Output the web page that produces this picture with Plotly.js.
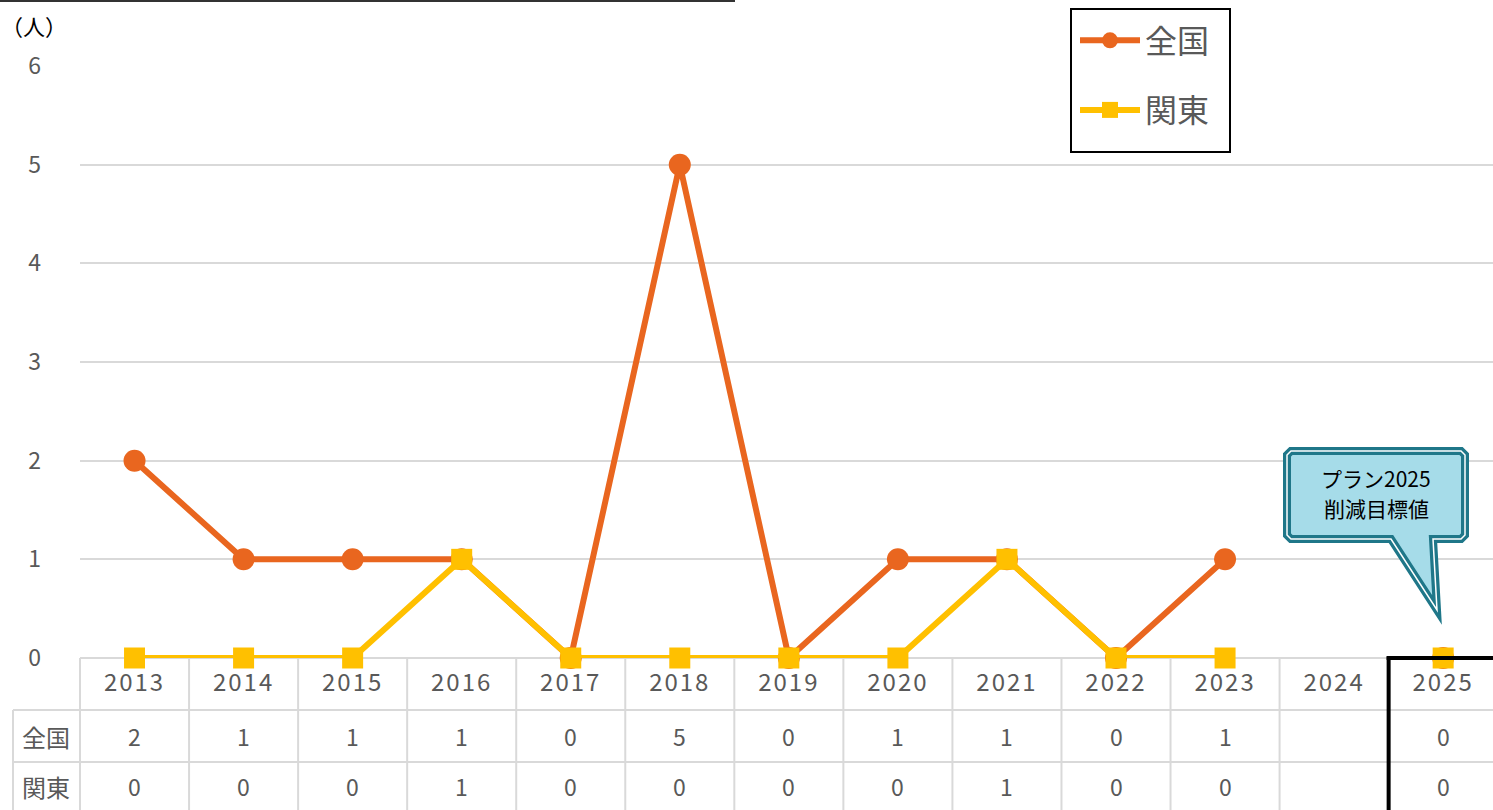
<!DOCTYPE html>
<html>
<head>
<meta charset="utf-8">
<script src="https://cdn.plot.ly/plotly-3.0.1.min.js"></script>
<style>
  html, body { margin: 0; padding: 0; overflow: hidden; background: #fff; }
  #chart { width: 1493px; height: 810px; }
  .xtick text { letter-spacing: 2px; }
</style>
</head>
<body>
<div id="chart"></div>
<script>
// ---- data ----
const years = ['2013','2014','2015','2016','2017','2018','2019','2020','2021','2022','2023','2024','2025'];
const zenkoku = [2, 1, 1, 1, 0, 5, 0, 1, 1, 0, 1, null, 0];
const kanto   = [0, 0, 0, 1, 0, 0, 0, 0, 1, 0, 0, null, 0];
const seriesNames = ['全国', '関東'];
const yUnitLabel = '（人）';
const calloutLines = ['プラン2025', '削減目標値'];

// ---- geometry ----
const W = 1493, H = 810;
const L = 80, R = 0, T = 66, B = 152;
const PW = W - L - R, PH = H - T - B;
const XMIN = -0.5, XMAX = 12.457;
const px = x => (x - L) / PW;          // pixel -> paper x
const py = y => (H - B - y) / PH;      // pixel -> paper y
const catPx = i => L + (i - XMIN) / (XMAX - XMIN) * PW;

const ORANGE = '#E9661F';
const YELLOW = '#FFC000';
const GRID = '#D9D9D9';
const TXT = '#595959';
const FONT = '"Noto Sans CJK JP", "Noto Sans", sans-serif';

const traces = [
  {
    x: years, y: zenkoku, name: seriesNames[0], type: 'scatter', mode: 'lines+markers',
    line: {color: ORANGE, width: 6}, marker: {color: ORANGE, size: 22, symbol: 'circle'},
    connectgaps: false, cliponaxis: false, legendgroup: 'a'
  },
  {
    x: years, y: kanto, name: seriesNames[1], type: 'scatter', mode: 'lines+markers',
    line: {color: YELLOW, width: 6}, marker: {color: YELLOW, size: 21, symbol: 'square'},
    connectgaps: false, cliponaxis: false, legendgroup: 'b'
  }
];

const shapes = [];
const annotations = [];
const hline = (x0, x1, y, color, w) => shapes.push({type:'line', xref:'paper', yref:'paper',
  x0: px(x0), x1: px(x1), y0: py(y), y1: py(y), line:{color, width:w}});
const vline = (x, y0, y1, color, w) => shapes.push({type:'line', xref:'paper', yref:'paper',
  x0: px(x), x1: px(x), y0: py(y0), y1: py(y1), line:{color, width:w}});

// data table grid
const rowTop = 658, row1 = 710, row2 = 762, rowBot = 812;
for (let k = 0; k <= years.length - 1; k++) {
  vline(catPx(k - 0.5), rowTop, rowBot, GRID, 2);
}
vline(13, row1, rowBot, GRID, 2);
hline(13, W, row1, GRID, 2);
hline(13, W, row2, GRID, 2);

// table values
const rowY = [736, 786];
[zenkoku, kanto].forEach((arr, r) => {
  annotations.push({xref:'paper', yref:'paper', x: px(46), y: py(rowY[r]), text: seriesNames[r],
    showarrow:false, xanchor:'center', yanchor:'middle', font:{size:24, color:TXT, family:FONT}});
  arr.forEach((v, i) => {
    if (v === null) return;
    annotations.push({xref:'x', yref:'paper', x: i, y: py(rowY[r]), text: String(v),
      showarrow:false, xanchor:'center', yanchor:'middle', font:{size:23, color:TXT, family:FONT}});
  });
});

// black box around 2025 column
vline(catPx(11.5), rowTop - 1.5, rowBot, '#000', 4);
hline(catPx(11.5) - 2, W + 2, rowTop, '#000', 4);

// thin dark line at top
hline(0, 735, 1, '#333', 2);

// legend frame
shapes.push({type:'rect', xref:'paper', yref:'paper', x0: px(1071), x1: px(1230), y0: py(9), y1: py(152),
  line:{color:'#000', width:2}, fillcolor:'#fff', layer:'above'});

// unit label
annotations.push({xref:'paper', yref:'paper', x: px(34), y: py(25), text: yUnitLabel,
  showarrow:false, xanchor:'center', yanchor:'middle', font:{size:22, color:'#000', family:FONT}});

// callout
const cx0 = 1287, cx1 = 1465, cy0 = 451, cy1 = 539, rr = 4;
const tl = 1391, tr = 1433, tipX = 1437, tipY = 610;
const pts = [
  [cx0 + rr, cy0], [cx1 - rr, cy0], [cx1, cy0 + rr], [cx1, cy1 - rr], [cx1 - rr, cy1],
  [tr, cy1], [tipX, tipY], [tl, cy1], [cx0 + rr, cy1], [cx0, cy1 - rr], [cx0, cy0 + rr]
];
const path = 'M ' + pts.map(p => px(p[0]) + ',' + py(p[1])).join(' L ') + ' Z';
shapes.push({type:'path', xref:'paper', yref:'paper', path, fillcolor:'#A6DCE9',
  line:{color:'#1F7789', width:8}, layer:'above'});
shapes.push({type:'path', xref:'paper', yref:'paper', path, fillcolor:'rgba(0,0,0,0)',
  line:{color:'#FFFFFF', width:1.5}, layer:'above'});
[478, 508].forEach((yy, j) => {
  annotations.push({xref:'paper', yref:'paper', x: px(1376), y: py(yy), text: calloutLines[j],
    showarrow:false, xanchor:'center', yanchor:'middle', align:'center',
    font:{size:21, color:'#000', family:FONT}});
});

const layout = {
  width: W, height: H,
  margin: {l: L, r: R, t: T, b: B, pad: 0},
  paper_bgcolor: '#fff', plot_bgcolor: '#fff',
  font: {family: FONT, color: TXT},
  showlegend: true,
  legend: {
    x: px(1075), y: py(13), xanchor: 'left', yanchor: 'top',
    borderwidth: 0, bgcolor: 'rgba(0,0,0,0)',
    font: {size: 32, color: TXT, family: FONT},
    traceorder: 'grouped', tracegroupgap: 25, itemwidth: 60
  },
  xaxis: {
    type: 'category', range: [XMIN, XMAX], fixedrange: true,
    showgrid: false, zeroline: false, showline: false, ticks: '',
    tickfont: {size: 24, color: TXT, family: FONT}, ticklabelstandoff: 8
  },
  yaxis: {
    range: [0, 6], dtick: 1, fixedrange: true,
    showgrid: true, gridcolor: GRID, gridwidth: 2,
    zeroline: true, zerolinecolor: GRID, zerolinewidth: 2,
    showline: false, ticks: '',
    tickfont: {size: 23, color: TXT, family: FONT}, ticklabelstandoff: 38
  },
  shapes, annotations
};

Plotly.newPlot('chart', traces, layout, {displayModeBar: false, staticPlot: true});
</script>
</body>
</html>
